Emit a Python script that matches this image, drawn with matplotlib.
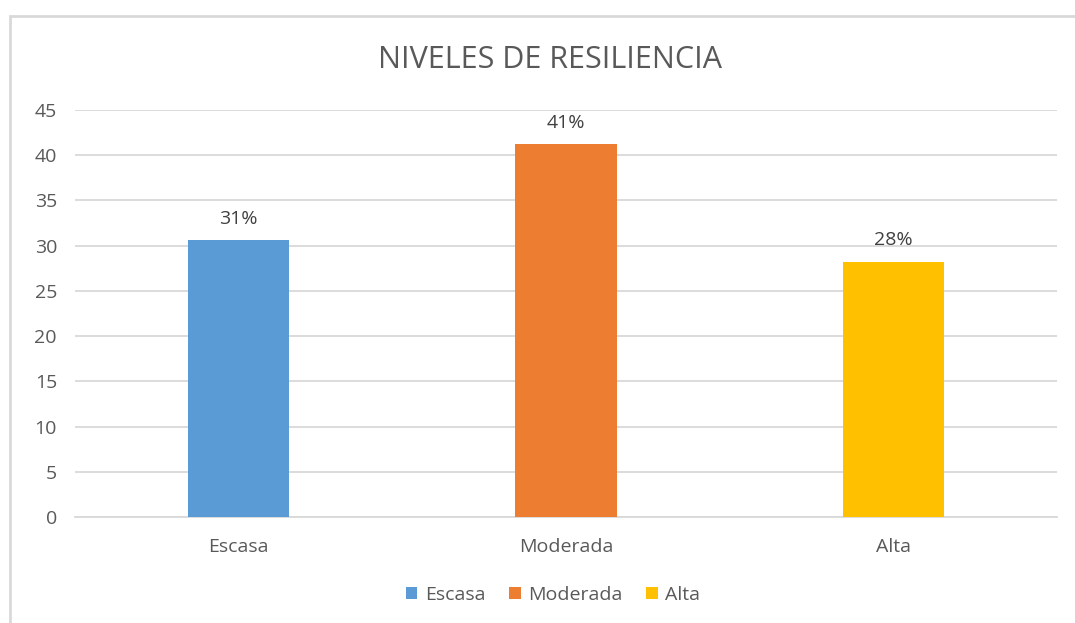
import matplotlib
matplotlib.use("Agg")
import matplotlib.pyplot as plt
from matplotlib.patches import Rectangle, Patch

categories = ["Escasa", "Moderada", "Alta"]
values = [30.6, 41.2, 28.2]
labels = ["31%", "41%", "28%"]
colors = ["#5B9BD5", "#ED7D31", "#FFC000"]
yticks = [0, 5, 10, 15, 20, 25, 30, 35, 40, 45]

plt.rcParams['font.family'] = ['Open Sans', 'DejaVu Sans']
W, H = 1075, 623
fig = plt.figure(figsize=(W/100, H/100), dpi=100)
fig.patch.set_facecolor("white")

# outer chart frame
fig.add_artist(Rectangle((10/W, -0.1), 1.2, 1 - 16/H + 0.1, transform=fig.transFigure,
                         fill=False, edgecolor="#D9D9D9", linewidth=2))

ax = fig.add_axes([75/W, 1 - 517/H, (1057-75)/W, (517-110)/H])
x = range(len(categories))
ax.bar(x, values, width=0.31, color=colors, zorder=3)
ax.set_xlim(-0.5, 2.5)
ax.set_ylim(0, 45)
ax.set_yticks(yticks)
ax.set_yticklabels([str(t) for t in yticks], fontsize=14, color="#595959")
ax.set_xticks(list(x))
ax.set_xticklabels(categories, fontsize=14, color="#595959")
ax.tick_params(axis="both", length=0)
ax.tick_params(axis="y", pad=13)
ax.tick_params(axis="x", pad=15)
ax.grid(axis="y", color="#D9D9D9", linewidth=1.3, zorder=0)
for s in ["top", "right", "left"]:
    ax.spines[s].set_visible(False)
ax.spines["bottom"].set_color("#D9D9D9")
ax.spines["bottom"].set_linewidth(1.3)

for xi, v, lab in zip(x, values, labels):
    ax.annotate(lab, (xi, v), xytext=(0, 9), textcoords="offset points",
                ha="center", va="bottom", fontsize=14, color="#404040")

fig.text(550/W, 1 - 60/H, "NIVELES DE RESILIENCIA", ha="center", va="center",
         fontsize=22, color="#595959")

handles = [Patch(facecolor=c, edgecolor="none") for c in colors]
fig.legend(handles, categories, loc="center", bbox_to_anchor=(553/W, 1 - 595/H),
           ncol=3, frameon=False, fontsize=14, labelcolor="#595959",
           handlelength=0.6, handleheight=0.6, handletextpad=0.4, columnspacing=1.2)

fig.savefig("out.png", dpi=100, facecolor="white")
